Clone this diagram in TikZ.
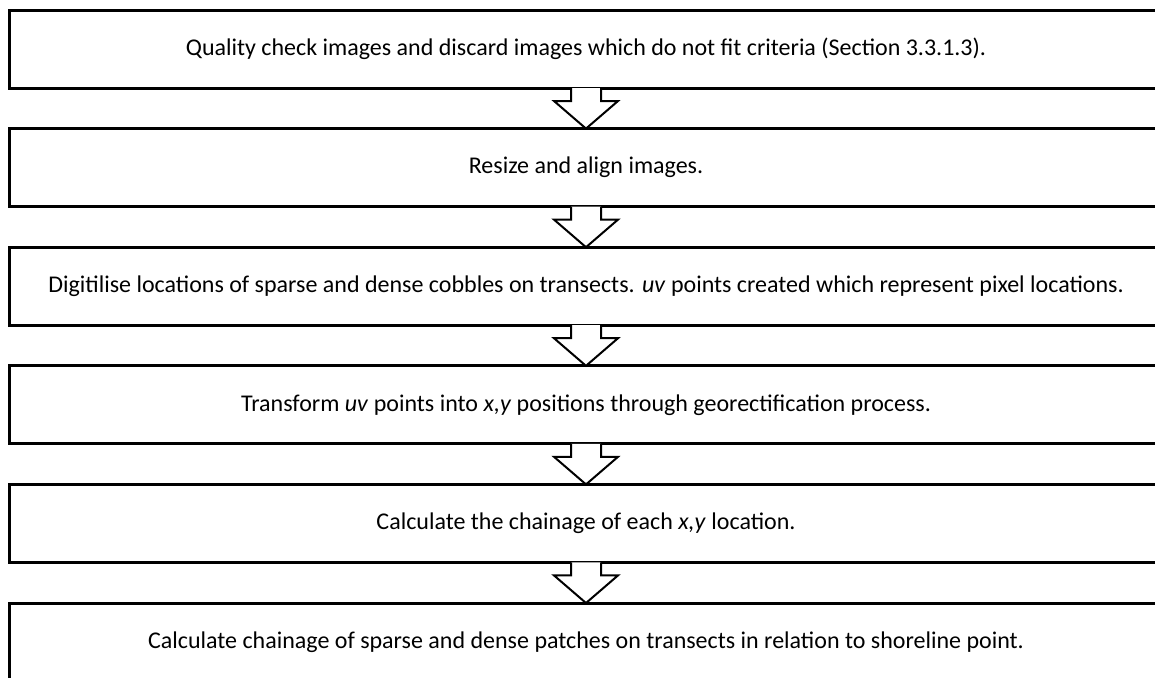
\documentclass[tikz,border=0pt]{standalone}
\usepackage{fontspec}
\setmainfont{Carlito}
\usetikzlibrary{positioning}

\tikzset{
  stepbox/.style={draw, line width=1.5pt, minimum width=576.5pt, minimum height=39pt,
    inner sep=0pt, outer sep=0pt, font=\fontsize{12}{14}\selectfont},
  blockarrow/.style={draw, line width=1pt, fill=white}
}

\begin{document}
\begin{tikzpicture}[x=0.5pt, y=-0.5pt]
    % page size, boxes run past the right and lower edge
    \path[use as bounding box, clip] (0,0) rectangle (1155,677);

    % steps
    \node[stepbox] (s1) at (586,49) {Quality check images and discard images which do not fit criteria (Section 3.3.1.3).};
    \node[stepbox, below=20.3pt of s1] (s2) {Resize and align images.};
    \node[stepbox, below=20.3pt of s2] (s3) {Digitilise locations of sparse and dense cobbles on transects. \textit{uv} points created which represent pixel locations.};
    \node[stepbox, below=20.3pt of s3] (s4) {Transform \textit{uv} points into \textit{x,y} positions through georectification process.};
    \node[stepbox, below=20.3pt of s4] (s5) {Calculate the chainage of each \textit{x,y} location.};
    \node[stepbox, below=20.3pt of s5] (s6) {Calculate chainage of sparse and dense patches on transects in relation to shoreline point.};

    % block arrows between the steps
    \foreach \a/\b in {s1/s2, s2/s3, s3/s4, s4/s5, s5/s6}
      \draw[blockarrow] (\a.south) ++(-15,0) -- ++(0,13) -- ++(-17,0) -- (\b.north)
        -- ++(32,-27.6) -- ++(-17,0) -- ++(0,-13);
\end{tikzpicture}
\end{document}
